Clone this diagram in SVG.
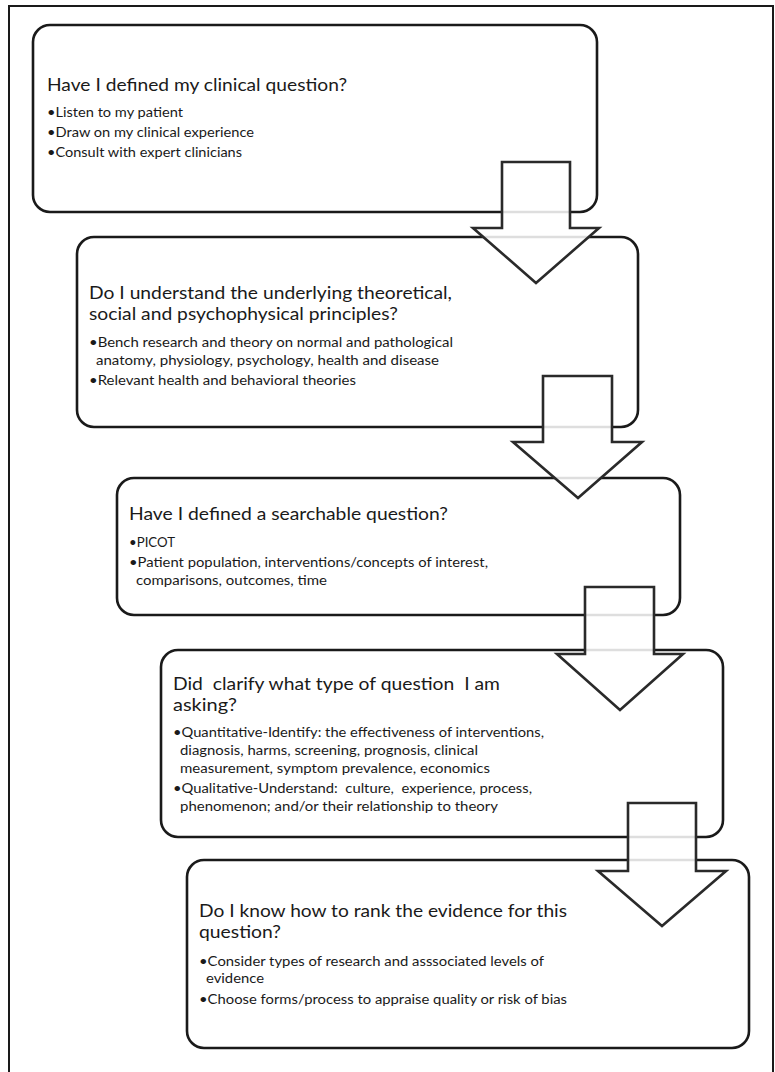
<svg xmlns="http://www.w3.org/2000/svg" width="775" height="1072" viewBox="0 0 775 1072">
<style>
.frame{fill:none;stroke:#1a1a1a;stroke-width:2}
.box{fill:#fff;stroke:#1a1a1a;stroke-width:2.6}
.arrow{fill:#fff;fill-opacity:0.86;stroke:#2a2a2a;stroke-width:2.6;stroke-linejoin:miter}
.t{font-family:Lato,"Open Sans","Liberation Sans",sans-serif;font-size:16.5px;fill:#1a1a1a;white-space:pre}
.b{font-family:Lato,"Open Sans","Liberation Sans",sans-serif;font-size:12.5px;fill:#1a1a1a;white-space:pre}
</style>
<rect width="775" height="1072" fill="#fff"/>
<path class="frame" d="M9,1073 V6 H773 V1073"/>
<g id="node1">
<rect class="box" x="33" y="25" width="564" height="187" rx="17"/>
<text class="t" x="47" y="91" textLength="300" lengthAdjust="spacingAndGlyphs">Have I defined my clinical question?</text>
<text class="b" x="47" y="117" textLength="136" lengthAdjust="spacingAndGlyphs">•Listen to my patient</text>
<text class="b" x="47" y="137" textLength="207" lengthAdjust="spacingAndGlyphs">•Draw on my clinical experience</text>
<text class="b" x="47" y="157" textLength="195" lengthAdjust="spacingAndGlyphs">•Consult with expert clinicians</text>
</g>
<g id="node2">
<rect class="box" x="77" y="237" width="561" height="190" rx="17"/>
<text class="t" x="89" y="299" textLength="363" lengthAdjust="spacingAndGlyphs">Do I understand the underlying theoretical,</text>
<text class="t" x="89" y="320" textLength="309" lengthAdjust="spacingAndGlyphs">social and psychophysical principles?</text>
<text class="b" x="89" y="347" textLength="364" lengthAdjust="spacingAndGlyphs">•Bench research and theory on normal and pathological</text>
<text class="b" x="96" y="365" textLength="343" lengthAdjust="spacingAndGlyphs">anatomy, physiology, psychology, health and disease</text>
<text class="b" x="89" y="385" textLength="267" lengthAdjust="spacingAndGlyphs">•Relevant health and behavioral theories</text>
</g>
<g id="node3">
<rect class="box" x="117" y="478" width="563" height="137" rx="17"/>
<text class="t" x="129" y="520" textLength="319" lengthAdjust="spacingAndGlyphs">Have I defined a searchable question?</text>
<text class="b" x="129" y="547" textLength="46" lengthAdjust="spacingAndGlyphs">•PICOT</text>
<text class="b" x="129" y="567" textLength="359" lengthAdjust="spacingAndGlyphs">•Patient population, interventions/concepts of interest,</text>
<text class="b" x="136" y="585" textLength="191" lengthAdjust="spacingAndGlyphs">comparisons, outcomes, time</text>
</g>
<g id="node4">
<rect class="box" x="161" y="650" width="562" height="187" rx="17"/>
<text class="t" x="173" y="690" textLength="327" lengthAdjust="spacingAndGlyphs" xml:space="preserve">Did  clarify what type of question  I am</text>
<text class="t" x="173" y="711" textLength="64" lengthAdjust="spacingAndGlyphs">asking?</text>
<text class="b" x="173" y="737" textLength="371" lengthAdjust="spacingAndGlyphs">•Quantitative-Identify: the effectiveness of interventions,</text>
<text class="b" x="180" y="755" textLength="298" lengthAdjust="spacingAndGlyphs">diagnosis, harms, screening, prognosis, clinical</text>
<text class="b" x="180" y="773" textLength="310" lengthAdjust="spacingAndGlyphs">measurement, symptom prevalence, economics</text>
<text class="b" x="173" y="793" textLength="359" lengthAdjust="spacingAndGlyphs" xml:space="preserve">•Qualitative-Understand:  culture,  experience, process,</text>
<text class="b" x="180" y="811" textLength="318" lengthAdjust="spacingAndGlyphs">phenomenon; and/or their relationship to theory</text>
</g>
<g id="node5">
<rect class="box" x="187" y="860" width="562" height="188" rx="17"/>
<text class="t" x="199" y="917" textLength="368" lengthAdjust="spacingAndGlyphs">Do I know how to rank the evidence for this</text>
<text class="t" x="199" y="938" textLength="82" lengthAdjust="spacingAndGlyphs">question?</text>
<text class="b" x="199" y="966" textLength="345" lengthAdjust="spacingAndGlyphs">•Consider types of research and asssociated levels of</text>
<text class="b" x="206" y="983" textLength="58" lengthAdjust="spacingAndGlyphs">evidence</text>
<text class="b" x="199" y="1004" textLength="368" lengthAdjust="spacingAndGlyphs">•Choose forms/process to appraise quality or risk of bias</text>
</g>
<g id="connectors">
<path class="arrow" d="M502,162 H570 V228 H599 L536,283 L473,228 H502 Z"/>
<path class="arrow" d="M543,376 H612 V442 H642 L578,498 L513,442 H543 Z"/>
<path class="arrow" d="M585,587 H654 V654 H683 L620,710 L557,654 H585 Z"/>
<path class="arrow" d="M628,803 H696 V871 H726 L662,926 L598,871 H628 Z"/>
</g>
</svg>
